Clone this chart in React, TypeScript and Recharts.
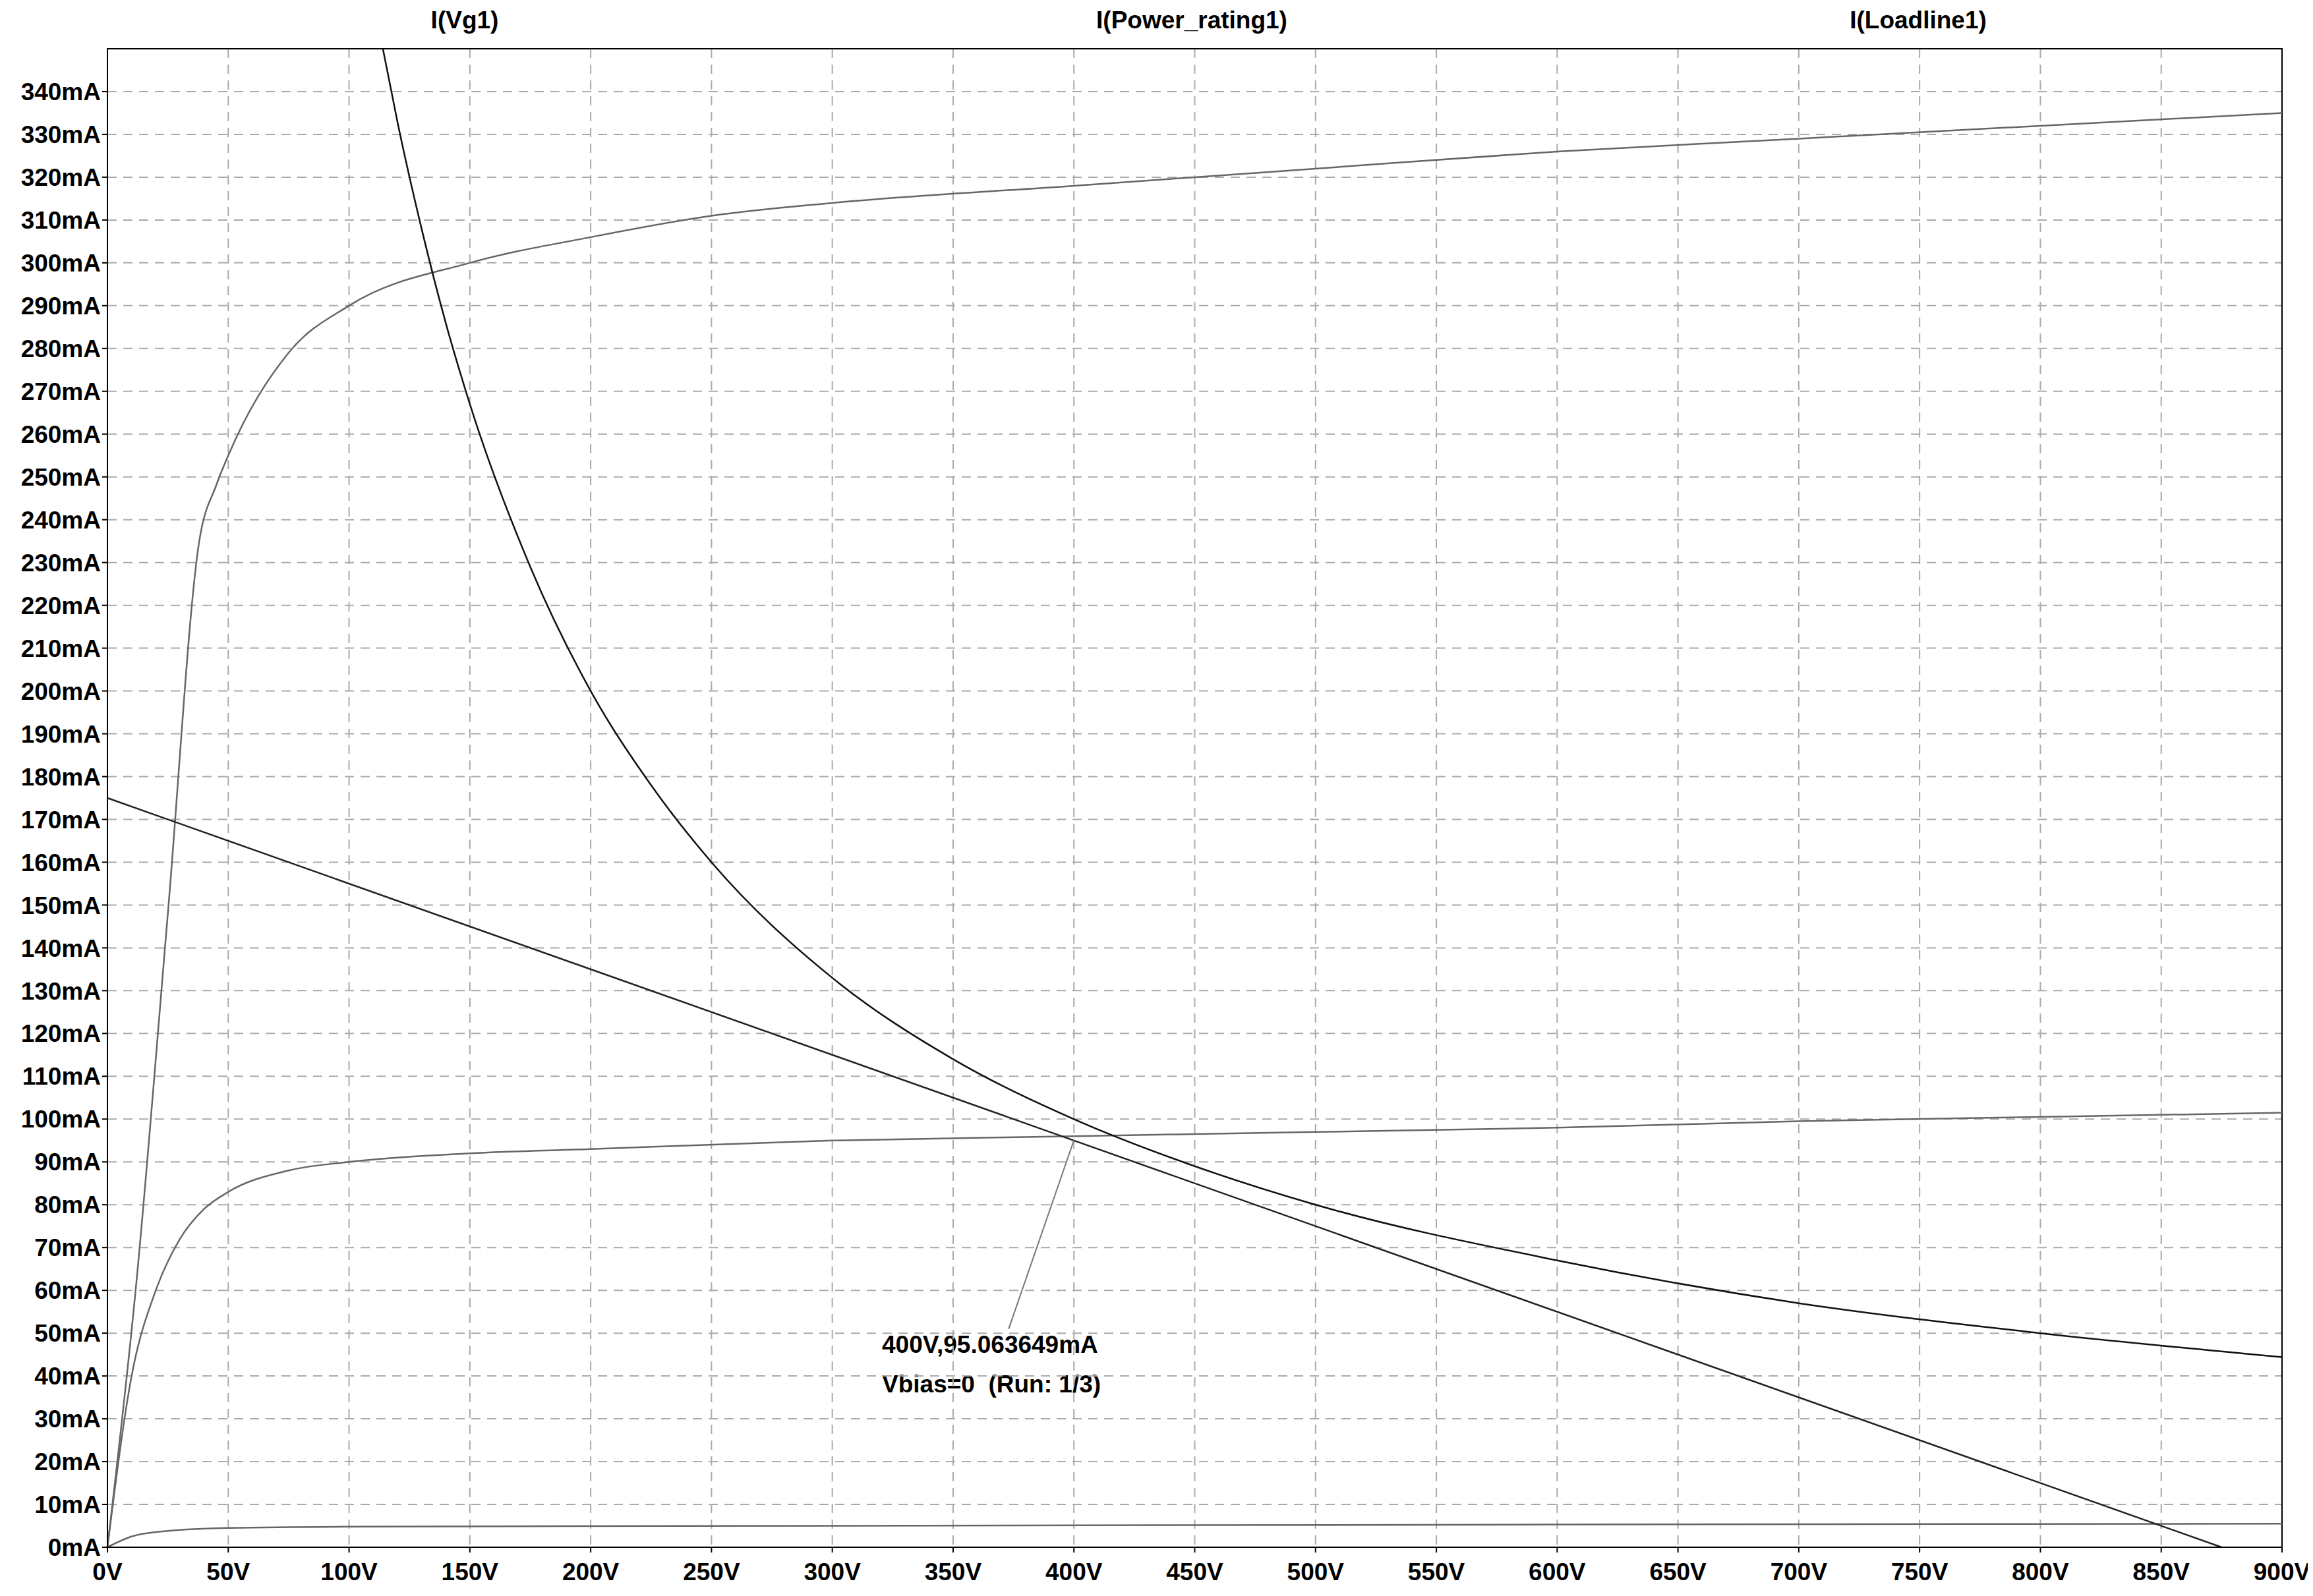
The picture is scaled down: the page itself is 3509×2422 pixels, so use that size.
import React from "react";
import { LineChart, Line, XAxis, YAxis, CartesianGrid, ReferenceArea } from "recharts";

const xTicks = [0,50,100,150,200,250,300,350,400,450,500,550,600,650,700,750,800,850,900];
const yTicks = [0,10,20,30,40,50,60,70,80,90,100,110,120,130,140,150,160,170,180,190,200,210,220,230,240,250,260,270,280,290,300,310,320,330,340];

const vgTop = [
  {v:0,i:0},{v:12,i:62},{v:25,i:148},{v:38,i:235},{v:45,i:248},{v:50,i:255},{v:75,i:279},
  {v:100,i:290},{v:150,i:300},{v:200,i:306},{v:250,i:311},{v:300,i:314},{v:400,i:318},
  {v:500,i:322},{v:600,i:326},{v:700,i:329},{v:800,i:332},{v:900,i:335},
];
const vgMid = [
  {v:0,i:0},{v:10,i:40},{v:20,i:60},{v:30,i:72},{v:40,i:79},{v:50,i:83},{v:75,i:88},{v:100,i:90},
  {v:150,i:92},{v:200,i:93},{v:300,i:95},{v:400,i:96},{v:500,i:97},{v:600,i:98},
  {v:700,i:99.5},{v:800,i:100.5},{v:900,i:101.5},
];
const vgLow = [
  {v:0,i:0},{v:10,i:2.5},{v:25,i:3.8},{v:50,i:4.5},{v:100,i:4.8},{v:300,i:5},{v:600,i:5.3},{v:900,i:5.5},
];
const power = [
  {v:114,i:350},{v:120,i:333},{v:130,i:308},{v:140,i:286},{v:150,i:267},{v:175,i:229},{v:200,i:200},
  {v:225,i:178},{v:250,i:160},{v:300,i:133},{v:350,i:114},{v:400,i:100},{v:450,i:89},
  {v:500,i:80},{v:600,i:67},{v:700,i:57},{v:800,i:50},{v:900,i:44.4},
];
const loadline = [{v:0,i:175},{v:875,i:0}];
const pointer = [{v:400,i:95.06},{v:373,i:51}];

const font = "'Liberation Sans', Arial, sans-serif";
const tickStyle = { fontFamily: font, fontWeight: 700, fontSize: 37, fill: "#000" };
const labelStyle: React.CSSProperties = { position: "absolute", fontFamily: font, fontWeight: 700, fontSize: 37, color: "#000", whiteSpace: "pre" };

export default function App() {
  return (
    <div style={{ position: "relative", margin: -8, width: 3509, height: 2422, background: "#fff" }}>
      <div style={{ ...labelStyle, left: 705, top: 10, transform: "translateX(-50%)" }}>I(Vg1)</div>
      <div style={{ ...labelStyle, left: 1808, top: 10, transform: "translateX(-50%)" }}>I(Power_rating1)</div>
      <div style={{ ...labelStyle, left: 2910, top: 10, transform: "translateX(-50%)" }}>I(Loadline1)</div>
      <div style={{ ...labelStyle, left: 1338, top: 2020 }}>400V,95.063649mA</div>
      <div style={{ ...labelStyle, left: 1338, top: 2080 }}>{"Vbias=0  (Run: 1/3)"}</div>
      <LineChart width={3509} height={2422} margin={{ top: 74, right: 47, bottom: 0, left: 0 }}>
        <CartesianGrid stroke="#aaa" strokeDasharray="14 10" strokeWidth={2} />
        <XAxis type="number" dataKey="v" domain={[0, 900]} ticks={xTicks} tickFormatter={(t) => `${t}V`}
          tick={{ ...tickStyle, dy: 14 }} height={74} stroke="#000" strokeWidth={2} interval={0} tickSize={8} allowDuplicatedCategory={false} />
        <YAxis type="number" dataKey="i" domain={[0, 350]} ticks={yTicks} tickFormatter={(t) => `${t}mA`}
          tick={tickStyle} width={163} stroke="#000" strokeWidth={2} interval={0} tickSize={8} />
        <ReferenceArea x1={0} x2={900} y1={0} y2={350} fill="none" stroke="#000" strokeWidth={2} ifOverflow="visible" />
        <Line data={vgTop} dataKey="i" type="monotone" stroke="#666" strokeWidth={2.5} dot={false} isAnimationActive={false} />
        <Line data={vgMid} dataKey="i" type="monotone" stroke="#666" strokeWidth={2.5} dot={false} isAnimationActive={false} />
        <Line data={vgLow} dataKey="i" type="monotone" stroke="#666" strokeWidth={2.5} dot={false} isAnimationActive={false} />
        <Line data={power} dataKey="i" type="monotone" stroke="#111" strokeWidth={2.5} dot={false} isAnimationActive={false} />
        <Line data={loadline} dataKey="i" type="linear" stroke="#222" strokeWidth={2.5} dot={false} isAnimationActive={false} />
        <Line data={pointer} dataKey="i" type="linear" stroke="#777" strokeWidth={2} dot={false} isAnimationActive={false} />
      </LineChart>
    </div>
  );
}
